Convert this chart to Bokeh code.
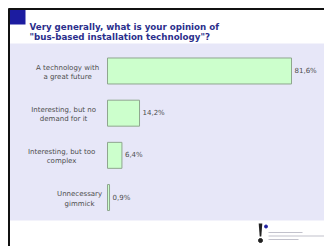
from bokeh.plotting import figure
from bokeh.models import Range1d, Label, ColumnDataSource
from bokeh.core.properties import value
from bokeh.embed import file_html
from bokeh.resources import INLINE

# ---- data ----
categories = ["A technology with\na great future",
              "Interesting, but no\ndemand for it",
              "Interesting, but too\ncomplex",
              "Unnecessary\ngimmick"]
shares = [81.6, 14.2, 6.4, 0.9]
share_labels = ["81,6%", "14,2%", "6,4%", "0,9%"]
title_lines = ["Very generally, what is your opinion of",
               "\"bus-based installation technology\"?"]

W, H = 324, 246
n = len(categories)
ypos = [n - 1 - i for i in range(n)]
LABEL_PX = 7.0
# approximate half-width of each label block so that lines are centred
half_w = [max(len(s) for s in c.split("\n")) * LABEL_PX * 0.285 for c in categories]

p = figure(width=W, height=H, output_backend="svg", toolbar_location=None,
           x_range=Range1d(-47.45, 96.23), y_range=Range1d(-1.161, 4.671),
           min_border=0, background_fill_color="white",
           border_fill_color="white", outline_line_color=None)
p.axis.visible = False
p.grid.visible = False
p.extra_x_ranges = {"px": Range1d(0, W)}
p.extra_y_ranges = {"px": Range1d(H, 0)}
PX = dict(x_range_name="px", y_range_name="px")

# slide decoration (page pixel ranges)
p.quad(left=[9], right=[W], top=[43], bottom=[220], fill_color="#e7e7f8", line_color=None, **PX)
p.quad(left=[9], right=[25], top=[9], bottom=[24], fill_color="#1c1ca0", line_color=None, **PX)
p.segment(x0=[8], y0=[8.5], x1=[W], y1=[8.5], line_color="#111111", line_width=2, **PX)
p.segment(x0=[8.5], y0=[8], x1=[8.5], y1=[H], line_color="#111111", line_width=2, **PX)
for i, t in enumerate(title_lines):
    p.add_layout(Label(x=29, y=26.5 + 10 * i, text=t, text_font="DejaVu Sans",
                       text_font_size="8.7px", text_font_style="bold", text_color="#2b2f8c",
                       text_baseline="alphabetic", **PX))
# logo mark
p.patch(x=[258.2, 261.8, 260.8, 259.2], y=[223, 223, 236, 236], fill_color="#222222",
        line_color=None, **PX)
p.scatter(x=[260, 265.5], y=[240, 226], size=[4, 3], color=["#222222", "#2020a0"], **PX)
p.segment(x0=[268, 268, 268], y0=[232, 235.5, 239], x1=[302, 324, 298], y1=[232, 235.5, 239],
          line_color="#c2c2cc", line_width=1.2, **PX)

# bars
src = ColumnDataSource(dict(y=ypos, v=shares, lab=share_labels))
p.hbar(y="y", left=0, right="v", height=0.616, source=src,
       fill_color="#ccffcc", line_color="#8fa68f", line_width=1)
p.text(x="v", y="y", text="lab", source=src, x_offset=3,
       text_font=value("DejaVu Sans"), text_font_size=f"{LABEL_PX}px",
       text_color="#4d4d4d", text_baseline="middle")
# centred label blocks: anchor at (bar start - 6px - half block width)
for yy, c, hw in zip(ypos, categories, half_w):
    p.add_layout(Label(x=0, y=yy, x_offset=-6 - hw, y_offset=-1.5, text=c,
                       text_font="DejaVu Sans", text_font_size=f"{LABEL_PX}px",
                       text_color="#4d4d4d", text_baseline="middle", text_align="center",
                       text_line_height=1.15))

open("out.html", "w").write(file_html(p, INLINE))
